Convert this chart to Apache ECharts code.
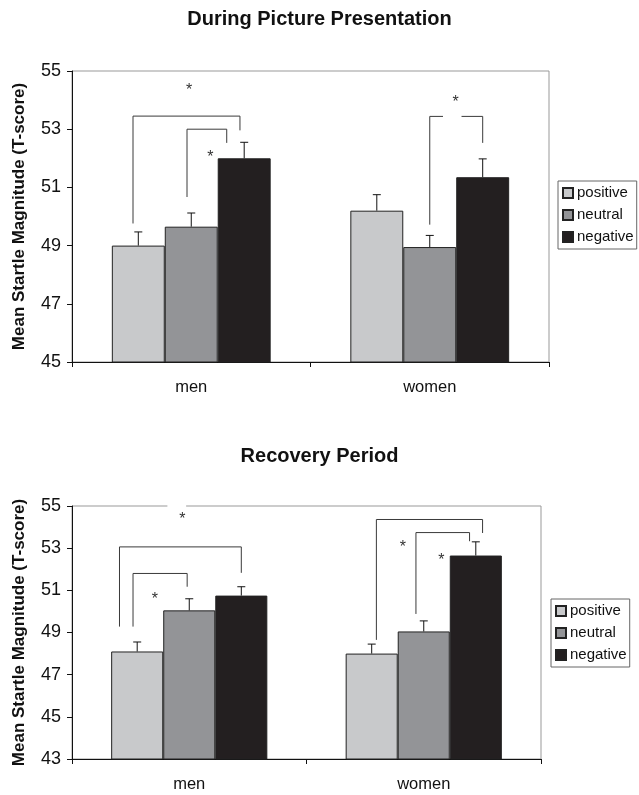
<!DOCTYPE html>
<html>
<head>
<meta charset="utf-8">
<script src="https://cdn.jsdelivr.net/npm/echarts@6/dist/echarts.min.js"></script>
<style>
  html, body { margin: 0; padding: 0; background: #fff; }
  #chart { width: 639px; height: 795px; }
</style>
</head>
<body>
<div id="chart"></div>
<script>
  // 数据
  const categories = ['men', 'women'];
  const conditions = ['positive', 'neutral', 'negative'];

  // 图片呈现期间 (均值 / 标准误)
  const presentationMeans = [[49.0, 50.2], [49.65, 48.95], [52.0, 51.35]];
  const presentationErr = [[0.47, 0.55], [0.47, 0.4], [0.55, 0.63]];

  // 恢复期
  const recoveryMeans = [[48.1, 48.0], [50.05, 49.05], [50.75, 52.65]];
  const recoveryErr = [[0.45, 0.45], [0.55, 0.5], [0.42, 0.65]];

  // 显著性括号: [类别, 左槽位, 左底, 顶, 右槽位, 右底, 缺口起, 缺口止]
  const presentationBrackets = [
    [0, -0.1, 49.76, 53.45, 1.92, 52.96],
    [0, 0.92, 50.67, 53.0, 1.67, 52.53],
    [1, 1.0, 49.72, 53.44, 2.0, 52.53, 1.25, 1.6]
  ];
  const presentationStars = [[0, 0.96, 54.34], [0, 1.36, 52.04], [1, 1.49, 53.93]];

  const recoveryBrackets = [
    [0, -0.34, 49.28, 53.06, 2.0, 51.83],
    [0, -0.08, 49.28, 51.8, 0.96, 51.17],
    [1, 0.09, 48.65, 54.36, 2.13, 53.72],
    [1, 0.85, 49.88, 53.74, 1.88, 53.33]
  ];
  const recoveryStars = [[0, 0.87, 54.36], [0, 0.34, 50.54], [1, 0.6, 53.03], [1, 1.34, 52.43]];
  // 顶边框上的白色缺口 (星号处)
  const recoveryBorderGap = [[0, 0.58, 0.94, 55]];

  const colors = ['#c8c9cb', '#939497', '#231f20'];
  const BAR_FRAC = 0.222;

  function slotX(api, cat, slot, y) {
    const c = api.coord([cat, y]);
    const band = api.size([1, 0])[0];
    return [c[0] + (slot - 1) * band * BAR_FRAC, c[1]];
  }

  function errorSeries(means, errs, gi) {
    const data = [];
    means.forEach((row, s) => row.forEach((m, c) => data.push([c, m, errs[s][c], s])));
    return {
      type: 'custom', xAxisIndex: gi, yAxisIndex: gi, z: 5, silent: true,
      data: data,
      encode: { x: 0, y: 1 },
      renderItem: (params, api) => {
        const cat = api.value(0), m = api.value(1), e = api.value(2), s = api.value(3);
        const p0 = slotX(api, cat, s, m);
        const p1 = slotX(api, cat, s, m + e);
        const style = { stroke: '#111', lineWidth: 1 };
        return {
          type: 'group',
          children: [
            { type: 'line', shape: { x1: p0[0], y1: p0[1], x2: p1[0], y2: p1[1] }, style },
            { type: 'line', shape: { x1: p1[0] - 4, y1: p1[1], x2: p1[0] + 4, y2: p1[1] }, style }
          ]
        };
      }
    };
  }

  function bracketSeries(brackets, gi) {
    return {
      type: 'custom', xAxisIndex: gi, yAxisIndex: gi, z: 6, silent: true,
      data: brackets.map(b => [b[0], b[1], b[2], b[3], b[4], b[5], b[6] == null ? -9 : b[6], b[7] == null ? -9 : b[7]]),
      encode: { x: 0, y: 3 },
      renderItem: (params, api) => {
        const cat = api.value(0);
        const a = slotX(api, cat, api.value(1), api.value(2));
        const b = slotX(api, cat, api.value(1), api.value(3));
        const c = slotX(api, cat, api.value(4), api.value(3));
        const d = slotX(api, cat, api.value(4), api.value(5));
        const style = { stroke: '#3a3a3a', lineWidth: 1, fill: null };
        const children = [
          { type: 'line', shape: { x1: a[0], y1: a[1], x2: b[0], y2: b[1] }, style },
          { type: 'line', shape: { x1: c[0], y1: c[1], x2: d[0], y2: d[1] }, style }
        ];
        const g0 = api.value(6), g1 = api.value(7);
        if (g0 > -9) {
          const p = slotX(api, cat, g0, api.value(3));
          const q = slotX(api, cat, g1, api.value(3));
          children.push({ type: 'line', shape: { x1: b[0], y1: b[1], x2: p[0], y2: p[1] }, style });
          children.push({ type: 'line', shape: { x1: q[0], y1: q[1], x2: c[0], y2: c[1] }, style });
        } else {
          children.push({ type: 'line', shape: { x1: b[0], y1: b[1], x2: c[0], y2: c[1] }, style });
        }
        return { type: 'group', children };
      }
    };
  }

  function starSeries(stars, gi) {
    return {
      type: 'custom', xAxisIndex: gi, yAxisIndex: gi, z: 7, silent: true,
      data: stars,
      encode: { x: 0, y: 2 },
      renderItem: (params, api) => {
        const p = slotX(api, api.value(0), api.value(1), api.value(2));
        return {
          type: 'text',
          style: {
            x: p[0], y: p[1], text: '*', align: 'center', verticalAlign: 'middle',
            font: '16px "Liberation Sans", Arial, sans-serif', fill: '#333'
          }
        };
      }
    };
  }

  function gapSeries(gaps, gi) {
    return {
      type: 'custom', xAxisIndex: gi, yAxisIndex: gi, z: 8, silent: true, clip: false,
      data: gaps,
      encode: { x: 0, y: 3 },
      renderItem: (params, api) => {
        const p = slotX(api, api.value(0), api.value(1), api.value(3));
        const q = slotX(api, api.value(0), api.value(2), api.value(3));
        return {
          type: 'line', z2: 100,
          shape: { x1: p[0], y1: p[1], x2: q[0], y2: q[1] },
          style: { stroke: '#fff', lineWidth: 3 }
        };
      }
    };
  }

  function barSeries(means, gi) {
    return means.map((row, s) => ({
      name: conditions[s],
      type: 'bar', xAxisIndex: gi, yAxisIndex: gi,
      data: row,
      barWidth: (BAR_FRAC * 100) + '%',
      barGap: '0%',
      itemStyle: { color: colors[s], borderColor: '#222', borderWidth: 1 },
      emphasis: { disabled: true }
    }));
  }

  const FONT = '"Liberation Sans", Arial, sans-serif';

  function xAxis(gi) {
    return {
      type: 'category', gridIndex: gi, data: categories,
      axisLine: { lineStyle: { color: '#111', width: 1 } },
      axisTick: { show: true, length: 5, alignWithLabel: false, lineStyle: { color: '#111' } },
      axisLabel: { color: '#111', fontSize: 16.5, fontFamily: FONT, margin: 17 }
    };
  }

  function yAxis(gi, min) {
    return {
      type: 'value', gridIndex: gi, min: min, max: 55, interval: 2,
      name: 'Mean Startle Magnitude (T-score)',
      nameLocation: 'middle', nameGap: 44,
      nameTextStyle: { fontSize: 17, fontWeight: 'bold', color: '#111', fontFamily: FONT },
      axisLine: { show: true, lineStyle: { color: '#111', width: 1 } },
      axisTick: { show: true, length: 5, lineStyle: { color: '#111' } },
      axisLabel: { color: '#111', fontSize: 18, fontFamily: FONT, margin: 11 },
      splitLine: { show: false }
    };
  }

  function legend(top, left) {
    return {
      orient: 'vertical', left: left, top: top,
      data: conditions,
      icon: 'rect', itemWidth: 10, itemHeight: 10, itemGap: 6,
      borderColor: '#666', borderWidth: 1, padding: [4, 3, 4, 4],
      selectedMode: false,
      textStyle: { fontSize: 15, fontFamily: FONT, color: '#111', lineHeight: 16, padding: [0, 0, 0, -1] }
    };
  }

  const chart = echarts.init(document.getElementById('chart'), null, { renderer: 'canvas' });
  chart.setOption({
    animation: false,
    backgroundColor: '#fff',
    title: [
      { text: 'During Picture Presentation', left: 'center', top: 4,
        textStyle: { fontSize: 20, fontWeight: 'bold', color: '#111', fontFamily: FONT } },
      { text: 'Recovery Period', left: 'center', top: 441,
        textStyle: { fontSize: 20, fontWeight: 'bold', color: '#111', fontFamily: FONT } }
    ],
    legend: [legend(181, 558), legend(599, 551)],
    grid: [
      { left: 72, top: 71, width: 477, height: 291, show: true, borderColor: '#999', borderWidth: 1 },
      { left: 72, top: 506, width: 469, height: 253, show: true, borderColor: '#999', borderWidth: 1 }
    ],
    xAxis: [xAxis(0), xAxis(1)],
    yAxis: [yAxis(0, 45), yAxis(1, 43)],
    series: [
      ...barSeries(presentationMeans, 0),
      errorSeries(presentationMeans, presentationErr, 0),
      bracketSeries(presentationBrackets, 0),
      starSeries(presentationStars, 0),
      ...barSeries(recoveryMeans, 1),
      errorSeries(recoveryMeans, recoveryErr, 1),
      bracketSeries(recoveryBrackets, 1),
      starSeries(recoveryStars, 1),
      gapSeries(recoveryBorderGap, 1)
    ]
  });
</script>
</body>
</html>
